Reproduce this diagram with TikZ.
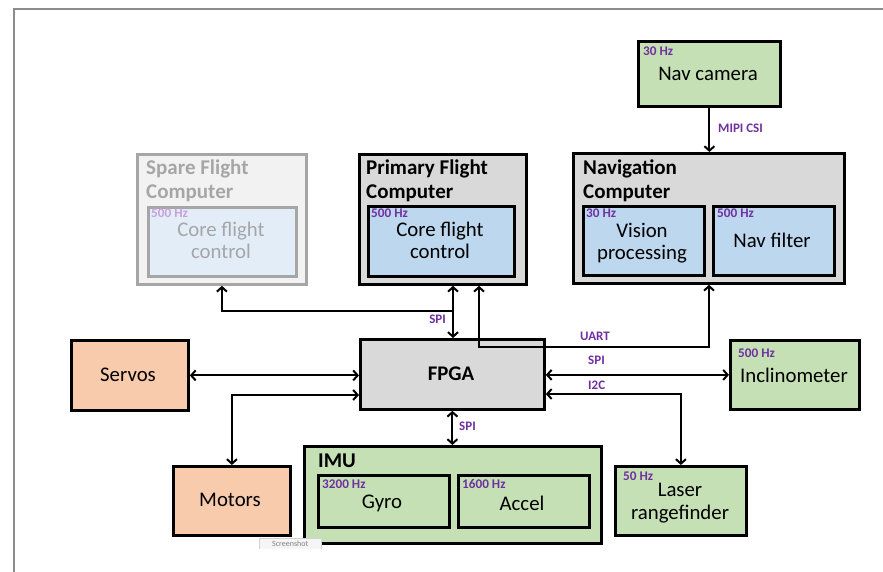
\documentclass[tikz,border=0pt]{standalone}
\usepackage{fontspec}
\setmainfont{Carlito}
\usetikzlibrary{arrows.meta}
\definecolor{boxgray}{HTML}{D9D9D9}
\definecolor{boxblue}{HTML}{BDD7EE}
\definecolor{boxgreen}{HTML}{C5E0B4}
\definecolor{boxsalmon}{HTML}{F8CBAD}
\definecolor{hzpurple}{HTML}{7030A0}
\definecolor{sparefill}{HTML}{F2F2F2}
\definecolor{spareinner}{HTML}{E2EDF8}
\definecolor{spareline}{HTML}{A6A6A6}
\definecolor{sparetext}{HTML}{A6A6A6}
\definecolor{sparehz}{HTML}{C9A0DC}
\definecolor{framegray}{HTML}{8C8C8C}
\begin{document}
\begin{tikzpicture}[x=1pt,y=-1pt,
  box/.style={draw=black, line width=2.8pt, inner sep=0pt, anchor=north west},
  sbox/.style={draw=spareline, line width=2.8pt, inner sep=0pt, anchor=north west},
  conn/.style={draw=black, line width=2pt, arrows={Straight Barb[length=4.5pt,width=10pt]-Straight Barb[length=4.5pt,width=10pt]}},
  conn1/.style={draw=black, line width=2pt, arrows={-Straight Barb[length=4.5pt,width=10pt]}},
  hz/.style={font=\fontsize{13.2}{15}\selectfont\bfseries, text=hzpurple, inner sep=0pt, anchor=west},
  lbl/.style={font=\fontsize{13}{15}\selectfont\bfseries, text=hzpurple, inner sep=0pt},
  main/.style={font=\fontsize{20.8}{22.5}\selectfont, align=center, inner sep=0pt},
  ttl/.style={font=\fontsize{21}{24.5}\selectfont\bfseries, align=left, inner sep=0pt, anchor=west},
]
\useasboundingbox (0,0) rectangle (883,572);
\fill[white] (0,0) rectangle (883,572);
% frame
\draw[framegray, line width=1.2pt] (883,9) -- (14,9) -- (14,572);

% boxes
\node[sbox, fill=sparefill, minimum width=169pt, minimum height=130pt] (spare) at (136,153) {};
\node[sbox, fill=spareinner, minimum width=148pt, minimum height=69pt] (sparecore) at (147,206) {};
\node[box, fill=boxgray, minimum width=167pt, minimum height=130pt] (pfc) at (358,153) {};
\node[box, fill=boxblue, minimum width=146pt, minimum height=70pt] (pfccore) at (367,205) {};
\node[box, fill=boxgreen, minimum width=142pt, minimum height=65pt] (navcam) at (637,40) {};
\node[box, fill=boxgray, minimum width=271pt, minimum height=130pt] (nav) at (572,152) {};
\node[box, fill=boxblue, minimum width=121pt, minimum height=69pt] (vision) at (582,205) {};
\node[box, fill=boxblue, minimum width=121pt, minimum height=69pt] (navfilter) at (712,205) {};
\node[box, fill=boxgray, minimum width=184pt, minimum height=70pt] (fpga) at (359,338) {};
\node[box, fill=boxsalmon, minimum width=117pt, minimum height=70pt] (servos) at (70,339) {};
\node[box, fill=boxsalmon, minimum width=117pt, minimum height=69pt] (motors) at (172,465) {};
\node[box, fill=boxgreen, minimum width=297pt, minimum height=97pt] (imu) at (303,445) {};
\node[box, fill=boxgreen, minimum width=131pt, minimum height=52pt] (gyro) at (317,474) {};
\node[box, fill=boxgreen, minimum width=131pt, minimum height=52pt] (accel) at (457,474) {};
\node[box, fill=boxgreen, minimum width=129pt, minimum height=69pt] (incl) at (729,339) {};
\node[box, fill=boxgreen, minimum width=131pt, minimum height=69pt] (laser) at (614,465) {};

% titles and texts
\node[ttl, text=sparetext] (tspare) at (146,181) {Spare Flight\\Computer};
\node[ttl] (tpfc) at (366,181) {Primary Flight\\Computer};
\node[ttl] (tnav) at (583,181) {Navigation\\Computer};
\node[ttl, anchor=west] (timu) at (318,461) {IMU};

\node[main, text=sparetext] (xspare) at (221,240.5) {Core flight\\control};
\node[main] (xpfc) at (440,240.5) {Core flight\\control};
\node[main] (xvision) at (642,243) {Vision\\processing};
\node[main] (xnavf) at (772,240) {Nav filter};
\node[main] (xnavcam) at (708,74) {Nav camera};
\node[main] (xincl) at (794,375) {Inclinometer};
\node[main] (xlaser) at (680,503) {Laser\\rangefinder};
\node[main] (xgyro) at (382,503) {Gyro};
\node[main] (xaccel) at (522,503) {Accel};
\node[main, font=\fontsize{20.8}{22.5}\selectfont\bfseries] (xfpga) at (451,374) {FPGA};
\node[main] (xservos) at (128,375) {Servos};
\node[main] (xmotors) at (230,500) {Motors};

% rate labels
\node[hz, text=sparehz] (hspare) at (151,213) {500 Hz};
\node[hz] (hpfc) at (371,213) {500 Hz};
\node[hz] (hnavcam) at (643,51) {30 Hz};
\node[hz] (hvision) at (586,213) {30 Hz};
\node[hz] (hnavf) at (717,213) {500 Hz};
\node[hz] (hincl) at (738,353) {500 Hz};
\node[hz] (hlaser) at (623,476) {50 Hz};
\node[hz] (hgyro) at (322,484) {3200 Hz};
\node[hz] (haccel) at (462,484) {1600 Hz};

% connectors
\coordinate (spij) at (453,311);
\draw[conn] (pfc.south -| 453,0) -- (fpga.north -| 453,0);
\draw[conn1] (spij) -| (spare.south);
\draw[conn] (pfc.south -| 479,0) -- (479,347) -- (709,347) -- (nav.south -| 709,0);
\draw[conn1] (navcam.south) -- (nav.north -| navcam.south);
\draw[conn] (servos.east) -- (fpga.west |- servos.east);
\draw[conn] (fpga.west |- 0,395) -| (motors.north);
\draw[conn] (fpga.east |- incl.west) -- (incl.west);
\draw[conn] (fpga.east |- 0,394) -| (laser.north);
\draw[conn] (fpga.south) -- (imu.north -| fpga.south);

% connector labels
\node[lbl, anchor=east] (lspi1) at (446,319) {SPI};
\node[lbl, anchor=west] (lmipi) at (718,128) {MIPI CSI};
\node[lbl, anchor=west] (luart) at (580,336) {UART};
\node[lbl, anchor=west] (lspi2) at (588,360) {SPI};
\node[lbl, anchor=west] (li2c) at (588,385) {I2C};
\node[lbl, anchor=west] (lspi3) at (459,426) {SPI};

% screenshot tooltip
\begin{scope}
\clip (0,0) rectangle (883,548);
\node[draw=gray!35, fill=gray!8, text=gray, font=\fontsize{8}{9}\selectfont, inner sep=1pt, minimum width=62pt, minimum height=12pt, anchor=north west] (tooltip) at (259,538) {Screenshot};
\end{scope}
\end{tikzpicture}
\end{document}
